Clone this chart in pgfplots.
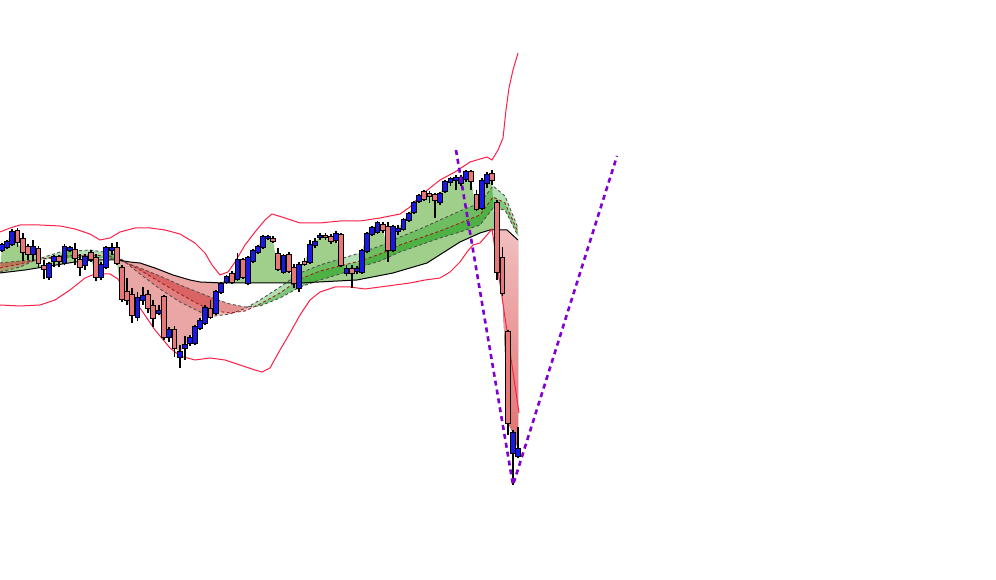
\documentclass[border=0pt]{standalone}
\usepackage{pgfplots}
\usepackage{pgfplotstable}
\pgfplotsset{compat=1.18}
\usepgfplotslibrary{fillbetween}

\definecolor{pgreen}{RGB}{160,207,140}
\definecolor{pred}{RGB}{234,165,165}
\definecolor{rgreen}{RGB}{0,150,0}
\definecolor{rred}{RGB}{205,40,40}
\definecolor{cblue}{RGB}{25,25,230}
\definecolor{cred}{RGB}{232,120,120}
\definecolor{bband}{RGB}{255,30,70}
\definecolor{vline}{RGB}{128,0,210}
\definecolor{dgray}{RGB}{80,80,80}
\definecolor{dred}{RGB}{160,30,30}

% candles: x, open, high, low, close (screen units, downward), up=1 rising
\pgfplotstableread{
x o h l c up
2 250 243 252 245 1
7 247 240 249 242 1
12 244 229 246 232 1
17.5 231 228 247 242 0
23 239 233 261 252 0
28 247 244 260 254 0
33 254 240 261 247 1
38.5 249 246 268 263 0
44 266 260 279 269 0
49 277 262 280 264 1
54 261 255 267 257 1
59 257 255 267 261 0
64.5 263 244 265 247 1
70 250 246 252 248 1
75 250 243 265 258 0
80 260 254 276 267 0
85 265 254 270 257 1
91 253 250 262 259 0
96 258 254 281 277 0
101 277 262 280 265 1
106 267 246 269 248 1
112 250 243 255 248 1
117 248 242 265 263 0
122 268 265 302 299 0
127 292 278 305 300 0
132 295 288 323 315 0
137.5 317 292 321 298 1
143 300 287 305 296 1
148 295 290 313 308 0
153 306 300 327 318 0
159 313 305 315 311 1
164 297 295 340 337 0
169 337 327 342 330 1
174.5 330 326 357 348 0
180 357 345 368 352 1
185 348 336 360 345 1
190 343 335 346 338 1
195 343 325 345 327 1
200 328 318 330 321 1
205 323 305 325 308 1
210.5 309 300 319 317 0
216 313 290 315 292 1
221 292 282 294 284 1
226.5 282 275 284 277 1
232 274 271 284 282 0
237.5 279 253 281 260 1
243 260 258 279 277 0
248 283 256 285 258 1
253 261 249 263 251 1
258 252 245 254 247 1
263 247 235 249 237 1
268 238 235 240 237 1
273 239 236 243 241 0
278 254 248 271 269 0
283.5 272 254 274 256 1
289 255 252 273 271 0
294 268 264 288 283 0
299 288 262 292 265 1
304.5 262 258 266 264 0
310 262 240 264 245 1
315 245 238 248 242 1
320 237 233 240 236 1
325.5 236 233 240 237 0
331 237 234 244 241 0
336 240 231 243 234 1
341 235 233 267 265 0
346.5 273 265 276 269 1
352 269 265 288 273 0
357 271 266 274 269 1
362 272 249 274 251 1
367 251 232 253 234 1
372 234 226 236 228 1
377.5 232 221 234 223 1
383 225 222 233 230 0
388 227 222 262 250 0
393 250 225 252 227 1
398 231 225 235 229 1
403.5 229 218 231 220 1
409 220 212 222 214 1
414 212 201 214 203 1
419 201 194 203 196 1
424 192 190 201 199 0
429.5 194 191 203 196 0
435 195 193 218 200 0
440 202 192 205 194 1
445 191 180 193 182 1
450.5 182 177 186 179 1
456 180 175 190 178 1
461 183 175 186 178 1
466 179 170 182 172 1
471 172 170 190 181 0
476.5 195 190 211 209 0
482 208 178 210 181 1
487 183 172 188 175 1
492 174 170 185 180 0
497 203 200 280 272 0
502.5 258 247 296 293 0
508 332 330 435 423 0
513 453 430 485 433 1
518 456 427 458 449 1
}\candles

% slow moving average (black)
\pgfplotstableread{
x y
0 273
25 270
50 266
75 262
95 260
118 260
130 262
140 263
155 268
173 275
190 280
200 282
223 283
260 283
300 283
357 280
393 273
427 263
460 242
480 233
490 230
507 230
518 240
}\slowma

% ribbon of moving averages: fast a, mid b, slow s
\pgfplotstableread{
x a b s
0 272 268 263
20 267 264 261
38 259 259.5 260
60 252 256 257
90 250 255 258
110 253 256 258
120 258 259.5 260.5
140 274 270 268
160 289 282 276
180 302 294 285
200 312 305 293
215 316 311 299
230 314 313 304
245 308.5 311 307
260 300 304 306
280 287 293 298
300 273 279 287
320 265 271 280
340 259 266 274
360 253 261 267
380 246 254 261
400 237 245 252
420 229 238 245
440 220 231 238
460 211 223 232
480 203 215 225
493 186 197 208
505 196 203 210
518 228 232 236
}\ribbon

% upper Bollinger band
\pgfplotstableread{
x y
0 232
10 228
20 225
40 225
60 226
75 229
90 234
100 240
110 238
120 232
135 228
150 228
165 230
180 234
195 243
205 253
212 265
220 275
228 272
235 262
245 245
255 232
265 220
272 214
285 218
300 223
320 223
340 221
360 221
380 218
400 214
410 207
420 196
430 188
440 180
455 172
470 162
487 157
492 160
498 150
503 138
506 110
509 88
513 70
518 53
}\upband

% lower Bollinger band
\pgfplotstableread{
x y
0 305
20 306
40 305
55 300
70 290
85 278
95 274
110 274
118 279
125 292
140 308
155 330
170 348
180 356
195 360
210 358
225 360
240 365
255 370
262 372
270 368
280 350
290 333
300 315
310 300
320 292
335 287
350 287
365 289
380 287
395 285
410 283
425 280
440 278
450 272
460 262
467 252
473 245
480 243
487 235
492 229
519 413
}\lowband

\begin{document}
\begin{tikzpicture}
\begin{axis}[name=ax, width=996bp, height=580bp, scale only axis,
  xmin=0, xmax=996, ymin=0, ymax=580, y dir=reverse, hide axis, clip=true,
  candle/.style={draw=none, mark=none, forget plot,
    error bars/y dir=both, error bars/y explicit, error bars/error mark=none}]

% paths
\addplot[draw=none, name path=close] table[x=x, y=c] {\candles};
\addplot[draw=none, name path=slow] table {\slowma};
\addplot[draw=none, name path=ma] table[x=x, y=a] {\ribbon};
\addplot[draw=none, name path=mb] table[x=x, y=b] {\ribbon};
\addplot[draw=none, name path=ms] table[x=x, y=s] {\ribbon};

% price vs slow average
\addplot[fill=pgreen] fill between[of=close and slow, soft clip={domain=0:119.5}];
\addplot[fill=pred] fill between[of=close and slow, soft clip={domain=119.5:222.5}];
\addplot[fill=pgreen] fill between[of=close and slow, soft clip={domain=222.5:494}];
\addplot[top color={rgb,255:red,242;green,196;blue,196}, bottom color={rgb,255:red,226;green,112;blue,112}, draw=none]
  fill between[of=close and slow, soft clip={domain=494:520}];

% ribbon fills
\addplot fill between[of=ma and ms, split,
  every segment no 0/.style={fill=rred, fill opacity=0.3},
  every segment no 1/.style={fill=rgreen, fill opacity=0.3},
  every segment no 2/.style={fill=rred, fill opacity=0.3},
  every segment no 3/.style={fill=rgreen, fill opacity=0.3}];
\addplot fill between[of=mb and ms, split,
  every segment no 0/.style={fill=rred, fill opacity=0.3},
  every segment no 1/.style={fill=rgreen, fill opacity=0.3},
  every segment no 2/.style={fill=rred, fill opacity=0.3},
  every segment no 3/.style={fill=rgreen, fill opacity=0.3}];

% ribbon lines
\addplot[dgray, line width=0.9bp, dash pattern=on 3bp off 2.5bp] table[x=x, y=a] {\ribbon};
\addplot[dred, line width=0.9bp, dash pattern=on 3bp off 2.5bp] table[x=x, y=b] {\ribbon};
\addplot[dgray, line width=0.9bp, dash pattern=on 3bp off 2.5bp] table[x=x, y=s] {\ribbon};

% slow average
\addplot[black, line width=1bp] table {\slowma};

% Bollinger bands
\addplot[bband, line width=1bp] table {\upband};
\addplot[bband, line width=1bp] table {\lowband};

% wicks
\addplot[candle, error bars/error bar style={draw=black, solid, line width=1.1bp}]
  table[x=x, y expr={(\thisrow{h}+\thisrow{l})/2},
        y error expr={(\thisrow{l}-\thisrow{h})/2}] {\candles};

% bodies: black outline
\addplot[candle, error bars/error bar style={draw=black, solid, line width=5.6bp}]
  table[x=x, y expr={(\thisrow{o}+\thisrow{c})/2},
        y error expr={abs(\thisrow{o}-\thisrow{c})/2+0.7}] {\candles};

% bodies: falling (red)
\addplot[candle, restrict expr to domain={\thisrow{up}}{-0.5:0.5},
  error bars/error bar style={draw=cred, solid, line width=3.6bp}]
  table[x=x, y expr={(\thisrow{o}+\thisrow{c})/2},
        y error expr={max(abs(\thisrow{o}-\thisrow{c})/2-0.4,0)}] {\candles};

% bodies: rising (blue)
\addplot[candle, restrict expr to domain={\thisrow{up}}{0.5:1.5},
  error bars/error bar style={draw=cblue, solid, line width=3.6bp}]
  table[x=x, y expr={(\thisrow{o}+\thisrow{c})/2},
        y error expr={max(abs(\thisrow{o}-\thisrow{c})/2-0.4,0)}] {\candles};

% V projection
\addplot[vline, line width=2.6bp, dash pattern=on 5bp off 4bp] coordinates {(456,150) (513,485) (617,156)};

\end{axis}
\pgfresetboundingbox
\path (ax.south west) rectangle (ax.north east);
\end{tikzpicture}
\end{document}
